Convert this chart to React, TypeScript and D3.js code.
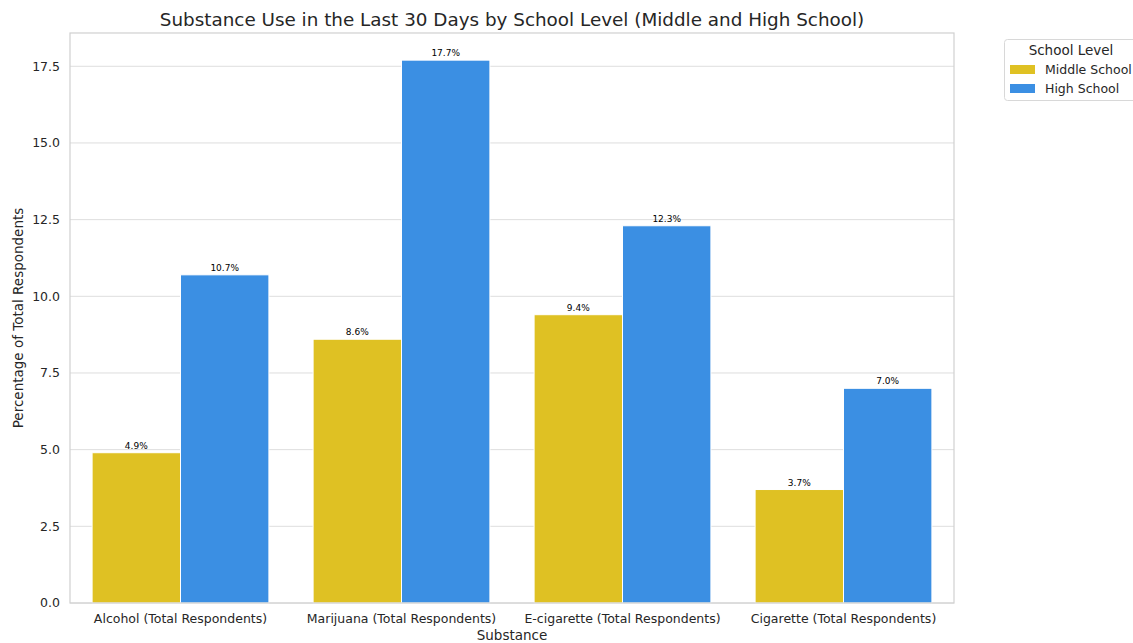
import React from "react";
import * as d3 from "d3";

const categories = [
  "Alcohol (Total Respondents)",
  "Marijuana (Total Respondents)",
  "E-cigarette (Total Respondents)",
  "Cigarette (Total Respondents)",
];
const seriesNames = ["Middle School", "High School"];
const middleSchool = [4.9, 8.6, 9.4, 3.7];
const highSchool = [10.7, 17.7, 12.3, 7.0];
const yTicks = [0, 2.5, 5, 7.5, 10, 12.5, 15, 17.5];
const colors = ["#dfc123", "#3b8fe3"];

export default function App() {
  const W = 1133, H = 643;
  const left = 70, right = 954, top = 33, bottom = 603;
  const x = d3.scaleBand<string>().domain(categories).range([left, right]).paddingInner(0.2).paddingOuter(0.1);
  const xs = d3.scaleBand<string>().domain(seriesNames).range([0, x.bandwidth()]);
  const y = d3.scaleLinear().domain([0, 18.585]).range([bottom, top]);
  const series = [middleSchool, highSchool];
  const font = "DejaVu Sans, sans-serif";
  return (
    <svg width={W} height={H} style={{ position: "absolute", left: 0, top: 0, background: "#fff" }} fontFamily={font}>
      <rect x={0} y={0} width={W} height={H} fill="#fff" />
      {yTicks.map((t) => (
        <g key={t}>
          <line x1={left} x2={right} y1={y(t)} y2={y(t)} stroke="#dedede" strokeWidth={1} />
          <text x={left - 10} y={y(t)} dy="0.35em" textAnchor="end" fontSize={12.5} fill="#262626">
            {t.toFixed(1)}
          </text>
        </g>
      ))}
      {categories.map((c, i) =>
        series.map((s, j) => {
          const bx = (x(c) as number) + (xs(seriesNames[j]) as number);
          const v = s[i];
          return (
            <g key={c + j}>
              <rect x={bx} y={y(v)} width={xs.bandwidth()} height={y(0) - y(v)} fill={colors[j]} stroke="#fff" strokeWidth={1} />
              <text x={bx + xs.bandwidth() / 2} y={y(v) - 4} textAnchor="middle" fontSize={9} fill="#000">
                {v.toFixed(1)}%
              </text>
            </g>
          );
        })
      )}
      <rect x={left} y={top} width={right - left} height={bottom - top} fill="none" stroke="#d0d0d0" strokeWidth={1.2} />
      {categories.map((c) => (
        <text key={c} x={(x(c) as number) + x.bandwidth() / 2} y={bottom + 20} textAnchor="middle" fontSize={12.5} fill="#262626">
          {c}
        </text>
      ))}
      <text x={(left + right) / 2} y={640} textAnchor="middle" fontSize={13.5} fill="#262626">Substance</text>
      <text transform={`translate(23, ${(top + bottom) / 2}) rotate(-90)`} textAnchor="middle" fontSize={13.5} fill="#262626">
        Percentage of Total Respondents
      </text>
      <text x={(left + right) / 2} y={26} textAnchor="middle" fontSize={18.35} fill="#262626">
        Substance Use in the Last 30 Days by School Level (Middle and High School)
      </text>
      <g>
        <rect x={1004.5} y={39.5} width={140} height={61} rx={3} fill="#fff" stroke="#d8d8d8" />
        <text x={1071} y={55} textAnchor="middle" fontSize={13.5} fill="#262626">School Level</text>
        {seriesNames.map((n, j) => (
          <g key={n}>
            <rect x={1010} y={65 + j * 19} width={25} height={9} fill={colors[j]} />
            <text x={1045} y={74 + j * 19} fontSize={12.5} fill="#262626">{n}</text>
          </g>
        ))}
      </g>
    </svg>
  );
}
